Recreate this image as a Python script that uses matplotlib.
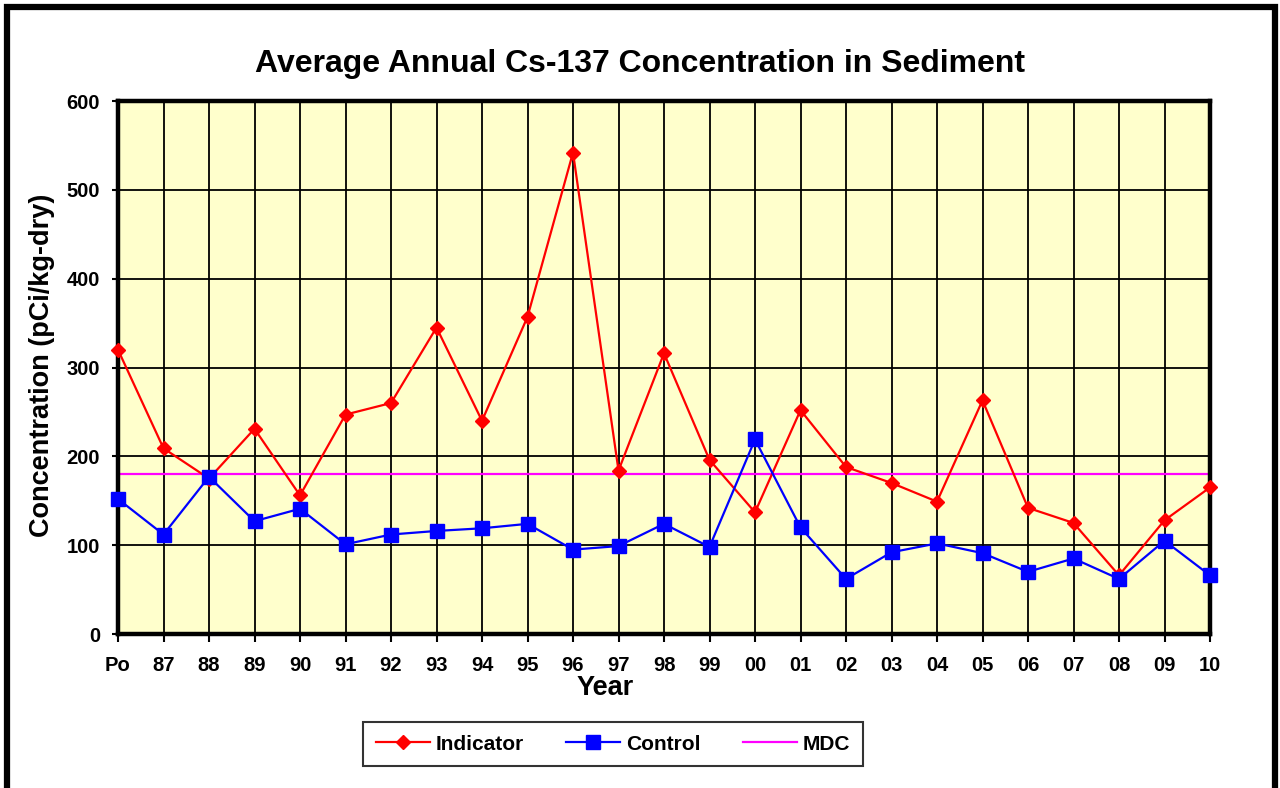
import matplotlib
matplotlib.use("Agg")
import matplotlib.pyplot as plt
from matplotlib.patches import Rectangle

categories = ["Po", "87", "88", "89", "90", "91", "92", "93", "94", "95", "96", "97",
              "98", "99", "00", "01", "02", "03", "04", "05", "06", "07", "08", "09", "10"]
indicator = [320, 209, 175, 231, 156, 247, 260, 345, 240, 357, 542, 184,
             316, 196, 137, 252, 188, 170, 149, 263, 142, 125, 66, 128, 165]
control = [152, 112, 177, 127, 141, 101, 112, 116, 119, 124, 95, 99,
           124, 98, 219, 120, 62, 92, 102, 91, 70, 85, 62, 105, 66]
mdc_value = 180
mdc = [mdc_value] * len(categories)
yticks = [0, 100, 200, 300, 400, 500, 600]

plt.rcParams['font.family'] = ['Liberation Sans', 'DejaVu Sans']

fig = plt.figure(figsize=(12.8, 7.88), dpi=100)
ax = fig.add_axes([118/1280, 1 - 634/788, (1210-118)/1280, (634-101)/788])
ax.set_facecolor('#FFFFCC')

x = list(range(len(categories)))
ax.plot(x, mdc, color='#FF00FF', lw=1.6, label='MDC', zorder=3)
ax.plot(x, indicator, color='#FF0000', lw=1.6, marker='D', markersize=7.5,
        markeredgecolor='#FF0000', markerfacecolor='#FF0000', label='Indicator',
        zorder=7, clip_on=False)
ax.plot(x, control, color='#0000FF', lw=1.6, marker='s', markersize=10,
        markeredgecolor='#0000FF', markerfacecolor='#0000FF', label='Control',
        zorder=8, clip_on=False)

ax.set_xlim(0, len(categories) - 1)
ax.set_ylim(0, 600)
ax.set_xticks(x)
ax.set_xticklabels(categories, fontsize=14.5, fontweight='bold')
ax.set_yticks(yticks)
ax.set_yticklabels([str(v) for v in yticks], fontsize=14.5, fontweight='bold')
ax.grid(True, color='black', lw=1.3, zorder=1)
ax.set_axisbelow(True)
ax.tick_params(axis='y', length=4, width=1.5, pad=9)
ax.tick_params(axis='x', length=6, width=1.5, pad=10)
for s in ax.spines.values():
    s.set_linewidth(3.2)
    s.set_zorder(6)

fig.text(640/1280, 1 - 64/788, 'Average Annual Cs-137 Concentration in Sediment',
         ha='center', va='center', fontsize=23, fontweight='bold')
fig.text(605/1280, 1 - 688/788, 'Year', ha='center', va='center',
         fontsize=19.5, fontweight='bold')
fig.text(42/1280, 1 - 365/788, 'Concentration (pCi/kg-dry)', ha='center', va='center',
         rotation=90, fontsize=19.5, fontweight='bold')

handles, labels = ax.get_legend_handles_labels()
order = [1, 2, 0]
leg = fig.legend([handles[i] for i in order], [labels[i] for i in order],
                 loc='center', bbox_to_anchor=(613/1280, 1 - 744/788), ncol=3,
                 frameon=True, fancybox=False, edgecolor='black',
                 prop={'weight': 'bold', 'size': 15}, handlelength=2.6,
                 columnspacing=2.0, handletextpad=0.3, borderpad=0.6)
leg.get_frame().set_linewidth(1.5)

fig.patches.append(Rectangle((7/1280, -0.05), (1275-7)/1280, 1.05 - 7/788,
                             transform=fig.transFigure, fill=False,
                             edgecolor='black', lw=4.5))

fig.savefig('out.png', dpi=100)
